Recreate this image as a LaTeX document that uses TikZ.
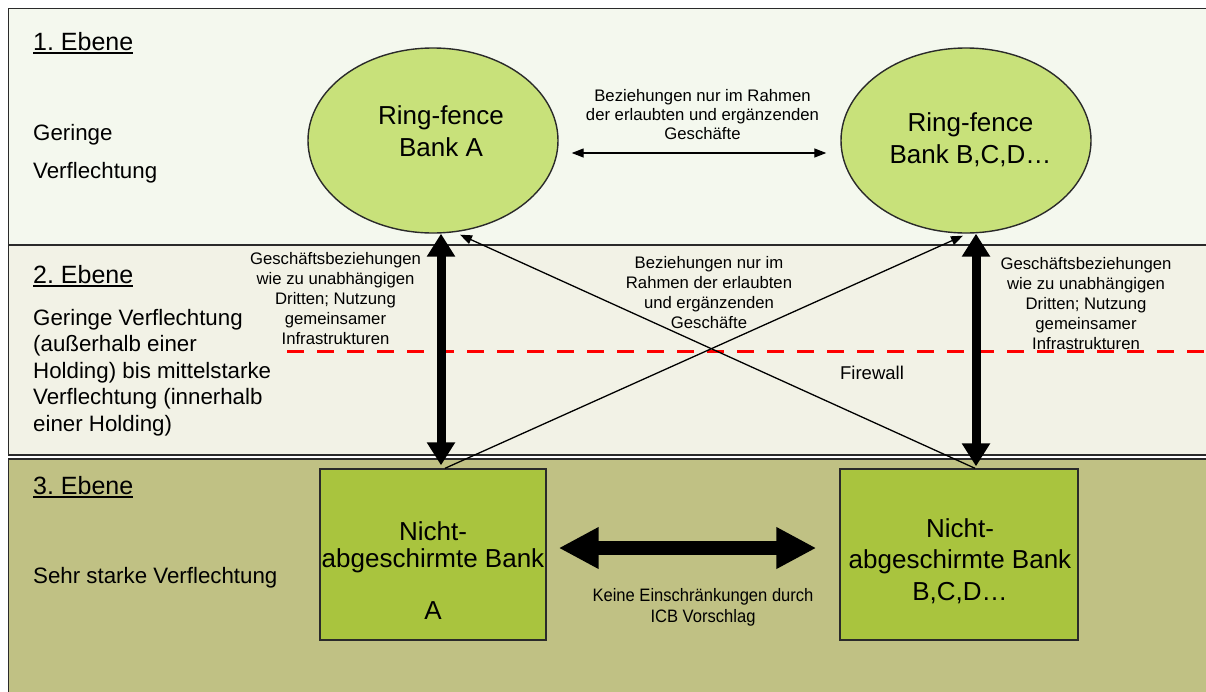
\documentclass[tikz,border=0pt]{standalone}
\usepackage{fontspec}
\setmainfont{Liberation Sans}
\newfontfamily\narrowfont[FakeStretch=0.92]{Liberation Sans}
\usetikzlibrary{arrows.meta,shapes.geometric}
\frenchspacing

\definecolor{bandone}{HTML}{F4F8EE}
\definecolor{bandtwo}{HTML}{F2F2E6}
\definecolor{bandthree}{HTML}{C0C184}
\definecolor{ringfill}{HTML}{C8E17A}
\definecolor{plainfill}{HTML}{A9C43E}
\definecolor{edge}{HTML}{2A2A2A}
\definecolor{firered}{HTML}{FF0000}

% multi-line nodes are anchored at the baseline of their last line
\tikzset{
  bandline/.style={draw=edge, line width=1.6pt},
  ringbank/.style={ellipse, draw=edge, line width=1.4pt, fill=ringfill,
    minimum width=250pt, minimum height=185pt, inner sep=0pt},
  plainbank/.style={rectangle, draw=edge, line width=1.4pt, fill=plainfill,
    minimum height=171pt, inner sep=0pt},
  headtext/.style={anchor=base west, inner sep=0pt, font=\fontsize{25}{30}\selectfont},
  desctext/.style={anchor=base west, align=left, inner sep=0pt,
    font=\fontsize{22.3}{26.5}\selectfont},
  banktext/.style={anchor=base, align=center, inner sep=0pt,
    font=\fontsize{26}{31.5}\selectfont},
  smalltext/.style={anchor=base, align=center, inner sep=0pt,
    font=\fontsize{16.7}{20}\selectfont},
  bigarrow/.style={line width=9pt, {Triangle[width=27pt,length=23pt]}-{Triangle[width=27pt,length=23pt]}},
  hugearrow/.style={line width=14pt, {Triangle[width=39pt,length=40pt]}-{Triangle[width=39pt,length=40pt]}},
  thinarrow/.style={line width=1.3pt, -{Triangle[width=9pt,length=12pt]}},
  thinboth/.style={line width=1.3pt, {Triangle[width=9pt,length=12pt]}-{Triangle[width=9pt,length=12pt]}},
  firewall/.style={draw=firered, line width=3.5pt, dash pattern=on 17pt off 13pt},
  underl/.style={line width=1.5pt}
}

\begin{document}
\begin{tikzpicture}[x=1pt,y=-1pt]
\useasboundingbox (0,0) rectangle (1206,691);
\clip (0,0) rectangle (1206,691);
\fill[white] (0,0) rectangle (1206,691);

% the three levels
\draw[bandline, fill=bandone] (8.5,8.5) rectangle (1230,245);
\draw[bandline, fill=bandtwo] (8.5,245) rectangle (1230,455);
\draw[bandline, fill=bandthree] (8.5,459) rectangle (1230,720);

% level captions
\node[headtext] (h1) at (33,50) {1. Ebene};
\draw[underl] ([yshift=-2.5pt]h1.south west) -- ([yshift=-2.5pt]h1.south east);
\node[desctext, font=\fontsize{22.3}{38}\selectfont] (d1) at (33,178) {Geringe\\Verflechtung};

\node[headtext] (h2) at (33,283) {2. Ebene};
\draw[underl] ([yshift=-2.5pt]h2.south west) -- ([yshift=-2.5pt]h2.south east);
\node[desctext] (d2) at (33,431) {Geringe Verflechtung\\(außerhalb einer\\Holding) bis mittelstarke\\Verflechtung (innerhalb\\einer Holding)};

\node[headtext] (h3) at (33,494) {3. Ebene};
\draw[underl] ([yshift=-2.5pt]h3.south west) -- ([yshift=-2.5pt]h3.south east);
\node[desctext] (d3) at (33,583) {Sehr starke Verflechtung};

% firewall between ring-fenced and other banks
\draw[firewall] (287,351.5) -- (1215,351.5);
\node[smalltext, font=\fontsize{18.5}{22}\selectfont] (fw) at (872,379) {Firewall};

% banks
\node[ringbank] (ra) at (433,140.5) {};
\node[banktext] (rat) at (441,156) {Ring-fence\\Bank A};
\node[ringbank] (rb) at (966,140.5) {};
\node[banktext] (rbt) at (970.5,163) {Ring-fence\\Bank B,C,D…};

\node[plainbank, minimum width=226pt] (na) at (433,554.5) {};
\node[banktext, font=\fontsize{26}{27}\selectfont] (nat) at (433,619) {Nicht-\\abgeschirmte Bank\\[25pt]A};
\node[plainbank, minimum width=238pt] (nb) at (959,554.5) {};
\node[banktext] (nbt) at (960,600) {Nicht-\\abgeschirmte Bank\\B,C,D…};

% relations between the banks
\draw[thinboth] ([shift={(13pt,-12.5pt)}]ra.east) -- ([shift={(-14pt,-12.5pt)}]rb.west);
\node[smalltext, font=\fontsize{16.7}{19}\selectfont] (t1) at (702.5,139)
  {Beziehungen nur im Rahmen\\der erlaubten und ergänzenden\\Geschäfte};

\draw[bigarrow] ([xshift=8pt]ra.south) -- ([shift={(8pt,3pt)}]na.north);
\draw[bigarrow, shorten >=2pt] ([xshift=10pt]rb.south) -- ([xshift=10pt]rb.south |- nb.north);
\node[smalltext] (t2) at (335.5,344)
  {Geschäftsbeziehungen\\wie zu unabhängigen\\Dritten; Nutzung\\gemeinsamer\\Infrastrukturen};
\node[smalltext] (t3) at (1086,349)
  {Geschäftsbeziehungen\\wie zu unabhängigen\\Dritten; Nutzung\\gemeinsamer\\Infrastrukturen};

\draw[thinarrow] ([xshift=12pt]na.north) -- ([xshift=-3pt,yshift=-2pt]rb.south);
\draw[thinarrow] ([xshift=16pt]nb.north) -- ([xshift=27pt,yshift=-1pt]ra.south);
\node[smalltext] (t4) at (709,328)
  {Beziehungen nur im\\Rahmen der erlaubten\\und ergänzenden\\Geschäfte};

\draw[hugearrow] ([shift={(12pt,6.5pt)}]na.east) -- ([shift={(-23pt,6.5pt)}]nb.west);
\node[smalltext, font=\narrowfont\fontsize{18}{21}\selectfont] (t5) at (703,622)
  {Keine Einschränkungen durch\\ICB Vorschlag};
\end{tikzpicture}
\end{document}
